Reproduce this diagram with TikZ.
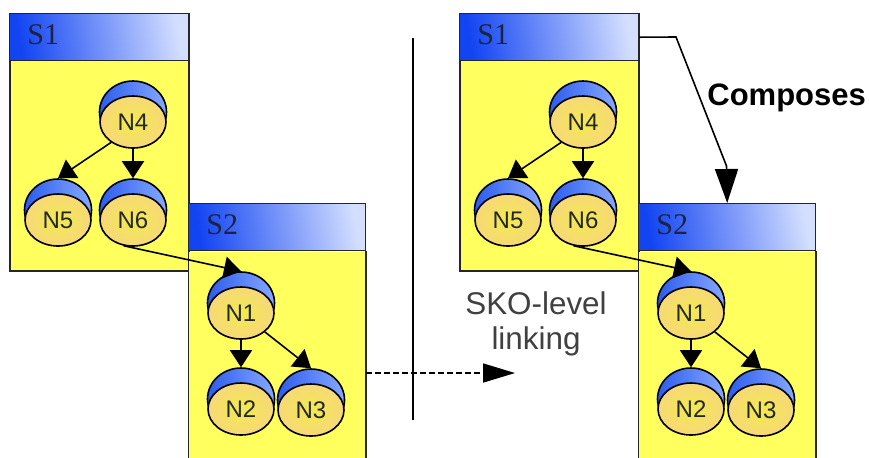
\documentclass[tikz,border=0pt]{standalone}
\usepackage{fontspec}
\setmainfont{Liberation Sans}
\newfontfamily\headfont{Liberation Serif}
\usepackage{xcolor}
\usetikzlibrary{arrows.meta,positioning,shapes.geometric}

\definecolor{bodyyellow}{HTML}{FFFF5E}
\definecolor{headdark}{HTML}{1244F2}
\definecolor{headpale}{HTML}{D4DFFF}
\definecolor{capdark}{HTML}{2B5CEE}
\definecolor{cappale}{HTML}{86A8FF}
\definecolor{facemid}{HTML}{F2EA50}
\definecolor{faceedge}{HTML}{F7D878}
\definecolor{headink}{HTML}{1A2340}

\begin{document}
\begin{tikzpicture}[
  x=0.5pt, y=-0.5pt,
  head/.style={draw=black!85, line width=0.7pt, minimum height=23.5pt, inner sep=0pt,
               anchor=north west, shade, left color=headdark, right color=headpale,
               shading angle=100},
  headtext/.style={anchor=west, inner sep=0pt, text=headink,
                   font=\headfont\fontsize{15}{18}\selectfont},
  body/.style={fill=bodyyellow, inner sep=0pt, minimum width=#1, anchor=north},
  capnode/.style={draw, line width=0.8pt, ellipse, inner sep=0pt, minimum width=33.5pt,
                  minimum height=31pt, shade, left color=capdark, right color=cappale},
  sknode/.style={draw, line width=0.8pt, ellipse, inner sep=0pt, minimum width=33pt,
                 minimum height=26pt, shade, inner color=facemid, outer color=faceedge,
                 text=black!85, font=\fontsize{12}{14}\selectfont},
  arr/.style={-{Triangle[length=8.5pt,width=11pt]}, line width=0.8pt},
  bigarr/.style={-{Triangle[length=17pt,width=11.5pt]}, line width=0.8pt},
  bigtext/.style={inner sep=0pt, align=center, text=black!75,
                  font=\fontsize{15.7}{17.3}\selectfont}
]
  \useasboundingbox (0,0) rectangle (870,457);

  % Both sides show the same two schemas
  \foreach \pre/\dx in {l/0, r/450}{
    \begin{scope}[shift={(\dx,0)}, name prefix=\pre-]
      % Schema S1
      \node[body=89.5pt, draw=black!85, line width=0.8pt, minimum height=128.5pt, anchor=north west] (s1body) at (9,13) {};
      \node[head, minimum width=89.5pt] (s1head) at (9,13) {};
      \node[headtext] (s1text) at (27,35) {S1};

      % Schema S2, runs off the bottom
      \node[head, minimum width=88.5pt] (s2head) at (188,203) {};
      \node[body=88.5pt, minimum height=103.5pt, below=0pt of s2head] (s2body) {};
      \node[headtext] (s2text) at (206,225) {S2};
      \draw[line width=0.8pt, black!85] (s2body.north west) -- (s2body.south west);
      \draw[line width=0.8pt, black!85] (s2body.north east) -- (s2body.south east);

      % Tree nodes: the cap goes behind the face
      \foreach \name/\txt/\x/\y in {n4/N4/133/122, n5/N5/58/220, n6/N6/133/220,
                                    n1/N1/241/313, n2/N2/241/409, n3/N3/311/410}{
        \node[capnode] (\name cap) at (\x,\y-10) {};
        \node[sknode] (\name) at (\x,\y) {\txt};
      }

      \draw[arr] (n4.223) -- (n5cap.north);
      \draw[arr] (n4.south) -- (n6cap.north);
      \draw[arr] (n6.250) -- (n1cap.north);
      \draw[arr] (n1.south) -- (n2cap.north);
      \draw[arr] (n1.south east) -- (n3cap.north);
    \end{scope}
  }

  % Divider and the link between the two sides
  \coordinate (divtop) at (413,38);
  \coordinate (divbot) at (413,420);
  \draw[line width=0.8pt] (divtop) -- (divbot);

  \coordinate (linkend) at (515,373);
  \draw[arr, dash pattern=on 3pt off 1.5pt, -{Triangle[length=16pt,width=9.5pt]}] (l-s2body.east |- linkend) -- (linkend);
  \node[bigtext] (linktext) at (536,324) {SKO-level\\linking};

  % Composes relation
  \coordinate (bend) at (676,37);
  \coordinate (compknee) at (726.5,166);
  \draw[bigarr] (r-s1head.east) -- (bend) -- (compknee) -- (r-s2head.north);
  \node[bigtext, anchor=west, text=black, font=\bfseries\fontsize{15.5}{17}\selectfont] (comptext) at (707,98) {Composes};
\end{tikzpicture}
\end{document}
